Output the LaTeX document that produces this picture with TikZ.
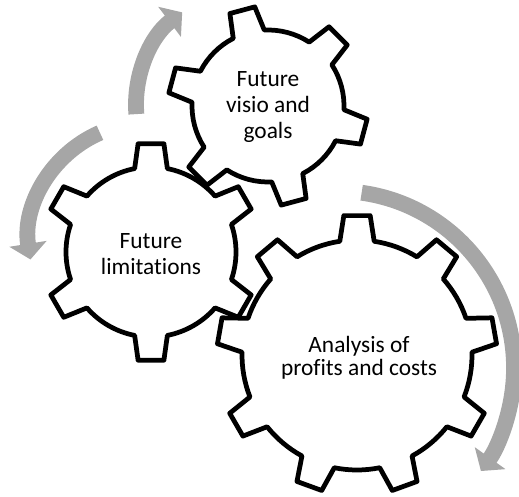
\documentclass[tikz,border=0pt]{standalone}
\usepackage{fontspec}
\setmainfont{Carlito}[Ligatures=NoCommon]
\usetikzlibrary{calc,arrows.meta}
\definecolor{arrowgray}{HTML}{A6A6A6}

\tikzset{
	gearline/.style={draw=black, fill=white, line width=2.7pt, line join=round},
	turnarrow/.style={draw=arrowgray, line width=9pt, -{Triangle[length=9pt,width=21pt]}},
	geartext/.style={align=center, font=\fontsize{13.3}{14.6}\selectfont}
}

% gear outline: centre, outer radius, root radius, teeth, first tooth angle,
% half angle of a tooth at the tip, half angle of a tooth at the root
\newcommand{\gearoutline}[7]{%
	\filldraw[gearline] ($(#1)+({#5-#7}:#3)$)
	\foreach \k in {1,...,#4} {
		-- ($(#1)+({#5+360*(\k-1)/#4-#6}:#2)$)
		-- ($(#1)+({#5+360*(\k-1)/#4+#6}:#2)$)
		-- ($(#1)+({#5+360*(\k-1)/#4+#7}:#3)$)
		arc[start angle={#5+360*(\k-1)/#4+#7}, end angle={#5+360*\k/#4-#7}, radius=#3]
	} -- cycle;
}

\begin{document}
\begin{tikzpicture}[x=0.02cm,y=0.02cm]
	\clip (0,0) rectangle (519,496);

	% gear centres
	\coordinate (limits) at (151,244);
	\coordinate (vision) at (268,390);
	\coordinate (analysis) at (357,141);

	% turning arrows
	\coordinate (arcA) at (252,391);
	\coordinate (arcB) at (147,255);
	\coordinate (arcC) at (337,128);
	\draw[turnarrow] ($(arcA)+(184.5:116)$) arc[start angle=184.5, end angle=127, radius=116];
	\draw[turnarrow] ($(arcB)+(113.5:118)$) arc[start angle=113.5, end angle=189, radius=118];
	\draw[turnarrow] ($(arcC)+(82:177)$) arc[start angle=82, end angle=-35.6, radius=177];

	% the three gears
	\gearoutline{analysis}{140}{115}{9}{90}{5.4}{8.6}
	\gearoutline{limits}{109}{85}{6}{90}{6.8}{11.1}
	\gearoutline{vision}{100}{76}{6}{105}{7.4}{12.2}

	\node[geartext] (limitstext) at (151,242) {Future\\limitations};
	\node[geartext] (visiontext) at (268,389) {Future\\visio and\\goals};
	\node[geartext, font=\fontsize{13.3}{13}\selectfont] (analysistext) at (359,138) {Analysis of\\profits and costs};
\end{tikzpicture}
\end{document}
